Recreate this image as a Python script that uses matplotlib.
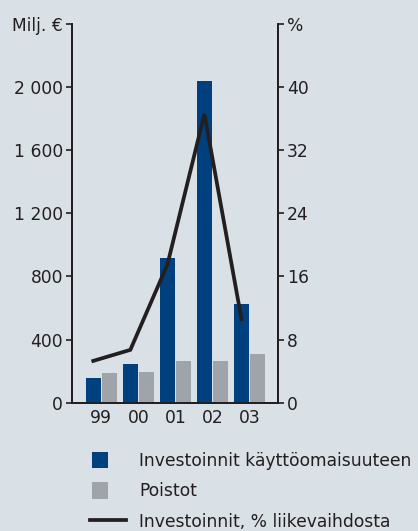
import numpy as np
import matplotlib.pyplot as plt
from matplotlib.patches import Rectangle
from matplotlib.legend_handler import HandlerPatch

plt.rcParams['font.family'] = ['DejaVu Sans']

years = ['99', '00', '01', '02', '03']
investoinnit = [155, 245, 920, 2040, 625]
poistot = [190, 195, 265, 265, 310]
inv_pct = [5.3, 6.7, 17.5, 36.6, 10.6]

left_ticks = [0, 400, 800, 1200, 1600, 2000, 2400]
left_labels = ['0', '400', '800', '1 200', '1 600', '2 000', 'Milj. €']
right_ticks = [0, 8, 16, 24, 32, 40, 48]
right_labels = ['0', '8', '16', '24', '32', '40', '%']

bg = '#d9e0e6'
blue = '#00407f'
grey = '#9ea4aa'
dark = '#231f20'
fs = 12.3

fig = plt.figure(figsize=(4.18, 5.31), dpi=100, facecolor=bg)
ax = fig.add_axes([0.1722, 0.2416, 0.4928, 0.7132])
ax.set_facecolor(bg)

x = np.arange(len(years))
w = 0.405
b1 = ax.bar(x - 0.215, investoinnit, width=w, color=blue)
b2 = ax.bar(x + 0.215, poistot, width=w, color=grey)

ax.set_xlim(-0.79, 4.77)
ax.set_ylim(0, 2400)
ax.set_yticks(left_ticks)
ax.set_yticklabels(left_labels)
ax.set_xticks(x)
ax.set_xticklabels(years)

ax2 = ax.twinx()
ln, = ax2.plot(x - 0.215, inv_pct, color=dark, lw=2.7, solid_joinstyle='miter')
ax2.set_ylim(0, 48)
ax2.set_yticks(right_ticks)
ax2.set_yticklabels(right_labels)

for a in (ax, ax2):
    a.spines['top'].set_visible(False)
    for s in ('left', 'right', 'bottom'):
        a.spines[s].set_color(dark)
        a.spines[s].set_linewidth(1.3)
    a.tick_params(axis='y', length=4, width=1.2, color=dark, pad=2.5,
                  labelsize=fs, labelcolor=dark)
ax.tick_params(axis='x', length=0, pad=4.5, labelsize=fs, labelcolor=dark)


def square(legend, orig_handle, xdescent, ydescent, width, height, fontsize):
    return Rectangle((-xdescent + 1.5, -ydescent), height, height)


p1 = b1.patches[0]
p2 = b2.patches[0]
labels = ['Investoinnit käyttöomaisuuteen', 'Poistot', 'Investoinnit, % liikevaihdosta']
leg = fig.legend(handles=[p1, p2, ln], labels=labels, loc='upper left',
                 bbox_to_anchor=(0.215, 0.149), frameon=False,
                 fontsize=fs, handlelength=2.1, handleheight=1.1,
                 handletextpad=0.78, labelspacing=0.72, borderaxespad=0,
                 borderpad=0,
                 handler_map={p1: HandlerPatch(patch_func=square),
                              p2: HandlerPatch(patch_func=square)})
for t in leg.get_texts():
    t.set_color(dark)

fig.savefig('out.png', dpi=100, facecolor=bg)
